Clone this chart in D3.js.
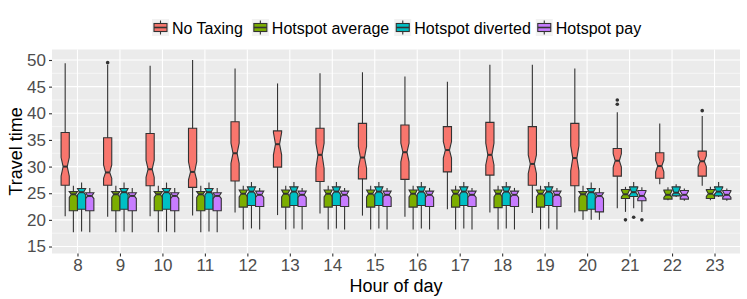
<!DOCTYPE html>
<html>
<head>
<meta charset="utf-8">
<script src="https://cdn.jsdelivr.net/npm/d3@7"></script>
<style>
  body { margin: 0; background: #fff; }
  text { font-family: "Liberation Sans", Arial, sans-serif; }
</style>
</head>
<body>
<div id="chart"></div>
<script>
// Hours on the x axis
const hours = ["8","9","10","11","12","13","14","15","16","17","18","19","20","21","22","23"];
const groups = ["No Taxing", "Hotspot average", "Hotspot diverted", "Hotspot pay"];
const colors = ["#F8766D", "#7CAE00", "#00BFC4", "#C77CFF"];
const yTicks = [15, 20, 25, 30, 35, 40, 45, 50];

// No Taxing: one value per hour
const noTaxLow    = [20.7,20.6,20.7,20.8,21.4,20.9,21.2,20.8,20.6,22.0,21.4,21.3,21.4,22.2,26.7,26.4];
const noTaxQ1     = [26.5,26.5,26.4,26.1,27.3,29.9,27.2,27.7,27.6,29.0,28.4,26.5,26.4,28.2,27.8,28.2];
const noTaxNotchL = [28.2,27.8,28.0,27.5,30.6,32.2,29.7,29.7,30.9,31.6,30.3,28.7,29.2,29.9,29.0,30.0];
const noTaxMed    = [30.0,28.9,29.5,29.0,32.5,34.2,32.2,31.7,32.7,33.1,32.2,30.5,31.6,31.1,30.1,31.0];
const noTaxNotchH = [31.7,30.3,31.2,30.9,34.4,36.4,34.4,33.8,34.4,34.7,34.4,32.2,33.9,32.4,31.2,32.0];
const noTaxQ3     = [36.4,35.4,36.2,37.2,38.4,36.7,37.2,38.1,37.8,37.5,38.3,37.5,38.1,33.4,32.6,32.9];
const noTaxHigh   = [49.4,49.1,48.9,50.0,48.4,45.6,47.5,47.7,46.9,45.9,49.1,49.1,48.4,40.2,38.1,39.5];
const noTaxOut    = [[],[49.5],[],[],[],[],[],[],[],[],[],[],[],[41.7,42.5],[],[40.5]];

// Hotspot average
const avgLow    = [17.7,17.7,17.7,17.7,18.2,18.2,18.2,18.2,18.2,18.2,18.2,18.2,20.0,21.5,23.7,23.7];
const avgQ1     = [21.7,21.7,21.7,21.7,22.4,22.4,22.4,22.4,22.4,22.4,22.3,22.4,21.7,24.0,23.9,24.0];
const avgNotchL = [24.2,24.2,24.2,24.2,24.3,24.3,24.3,24.3,24.3,24.3,24.3,24.3,24.2,24.3,24.2,24.4];
const avgMed    = [24.8,24.8,24.8,24.8,24.9,24.9,24.9,24.9,24.9,24.9,24.9,24.9,24.8,24.8,24.7,24.9];
const avgNotchH = [25.3,25.3,25.3,25.3,25.6,25.6,25.6,25.6,25.6,25.6,25.6,25.6,25.3,25.6,25.5,25.6];
const avgQ3     = [25.3,25.3,25.3,25.3,25.6,25.6,25.6,25.6,25.6,25.6,25.6,25.6,25.3,25.7,25.6,25.7];
const avgHigh   = [26.4,26.4,26.4,26.4,26.4,26.4,26.4,26.4,26.4,26.4,26.4,26.4,26.4,26.2,26.1,26.2];
const avgOut    = [[],[],[],[],[],[],[],[],[],[],[],[],[],[20.0],[],[]];

// Hotspot diverted
const divLow    = [17.8,17.8,17.8,17.8,18.4,18.4,18.4,18.4,18.4,18.4,18.4,18.4,20.0,22.2,24.3,24.3];
const divQ1     = [22.0,22.0,22.0,22.0,22.7,22.7,22.7,22.7,22.7,22.7,22.7,22.7,22.0,24.4,24.5,24.5];
const divNotchL = [24.7,24.7,24.7,24.7,24.8,24.8,24.8,24.8,24.8,24.8,24.8,24.8,24.7,24.7,24.7,24.8];
const divMed    = [25.2,25.2,25.2,25.2,25.3,25.3,25.3,25.3,25.3,25.3,25.3,25.3,25.2,25.2,25.1,25.3];
const divNotchH = [25.9,25.9,25.9,25.9,26.2,26.2,26.2,26.2,26.2,26.2,26.2,26.2,25.9,26.1,26.1,26.1];
const divQ3     = [25.9,25.9,25.9,25.9,26.2,26.2,26.2,26.2,26.2,26.2,26.2,26.2,25.9,26.2,26.2,26.2];
const divHigh   = [27.0,27.0,27.0,27.0,27.1,27.1,27.1,27.1,27.1,27.1,27.1,27.1,27.0,27.1,26.7,27.1];
const divOut    = [[],[],[],[],[],[],[],[],[],[],[],[],[],[20.5],[],[]];

// Hotspot pay
const payLow    = [17.7,17.7,17.7,17.7,18.2,18.2,18.2,18.2,18.2,18.2,18.2,18.2,20.0,21.5,23.6,23.6];
const payQ1     = [21.7,21.7,21.7,21.7,22.5,22.5,22.5,22.5,22.5,22.5,22.5,22.5,21.5,23.6,23.9,23.9];
const payNotchL = [24.0,24.0,24.0,24.0,24.2,24.2,24.2,24.2,24.2,24.2,24.2,24.2,24.0,24.0,24.2,24.2];
const payMed    = [24.5,24.5,24.5,24.5,24.7,24.7,24.7,24.7,24.7,24.7,24.7,24.7,24.5,24.5,24.7,24.7];
const payNotchH = [25.1,25.1,25.1,25.1,25.4,25.4,25.4,25.4,25.4,25.4,25.4,25.4,25.1,25.4,25.4,25.4];
const payQ3     = [25.1,25.1,25.1,25.1,25.4,25.4,25.4,25.4,25.4,25.4,25.4,25.4,25.1,25.5,25.5,25.5];
const payHigh   = [26.0,26.0,26.0,26.0,26.0,26.0,26.0,26.0,26.0,26.0,26.0,26.0,26.0,26.1,25.9,25.9];
const payOut    = [[],[],[],[],[],[],[],[],[],[],[],[],[],[20.0],[],[]];

// Build box records
const series = [
  [noTaxLow, noTaxQ1, noTaxNotchL, noTaxMed, noTaxNotchH, noTaxQ3, noTaxHigh, noTaxOut],
  [avgLow, avgQ1, avgNotchL, avgMed, avgNotchH, avgQ3, avgHigh, avgOut],
  [divLow, divQ1, divNotchL, divMed, divNotchH, divQ3, divHigh, divOut],
  [payLow, payQ1, payNotchL, payMed, payNotchH, payQ3, payHigh, payOut]
];
const boxes = [];
series.forEach(function(s, g) {
  hours.forEach(function(h, i) {
    boxes.push({hour: h, group: g, low: s[0][i], q1: s[1][i], nlo: s[2][i], med: s[3][i],
                nhi: s[4][i], q3: s[5][i], high: s[6][i], out: s[7][i]});
  });
});

const W = 747, H = 299;
const panel = {left: 52, right: 740, top: 49.5, bottom: 253.5};

const svg = d3.select("#chart").append("svg")
  .attr("width", W).attr("height", H);

// Scales
const x = d3.scalePoint().domain(hours).range([panel.left, panel.right]).padding(0.6);
const y = d3.scaleLinear().domain([13.69, 51.97]).range([panel.bottom, panel.top]);
const slot = x.step() * 0.193;
const dodge = d3.scaleBand().domain(d3.range(groups.length)).range([-2 * slot, 2 * slot]);

// Panel background and grid
svg.append("rect")
  .attr("x", panel.left).attr("y", panel.top)
  .attr("width", panel.right - panel.left).attr("height", panel.bottom - panel.top)
  .attr("fill", "#EBEBEB");

const minor = yTicks.slice(0, -1).map(function(t) { return t + 2.5; });
svg.append("g").selectAll("line").data(minor).enter().append("line")
  .attr("x1", panel.left).attr("x2", panel.right)
  .attr("y1", function(d) { return y(d); }).attr("y2", function(d) { return y(d); })
  .attr("stroke", "#fff").attr("stroke-width", 0.55);

svg.append("g").selectAll("line").data(yTicks).enter().append("line")
  .attr("x1", panel.left).attr("x2", panel.right)
  .attr("y1", function(d) { return y(d); }).attr("y2", function(d) { return y(d); })
  .attr("stroke", "#fff").attr("stroke-width", 1.1);

svg.append("g").selectAll("line").data(hours).enter().append("line")
  .attr("y1", panel.top).attr("y2", panel.bottom)
  .attr("x1", function(d) { return x(d); }).attr("x2", function(d) { return x(d); })
  .attr("stroke", "#fff").attr("stroke-width", 1.1);

// Boxes
const ink = "#333333";
const bx = svg.append("g").selectAll("g").data(boxes).enter().append("g");

bx.append("line")
  .attr("x1", function(d) { return x(d.hour) + dodge(d.group) + slot / 2; })
  .attr("x2", function(d) { return x(d.hour) + dodge(d.group) + slot / 2; })
  .attr("y1", function(d) { return y(d.high); })
  .attr("y2", function(d) { return y(d.low); })
  .attr("stroke", ink).attr("stroke-width", 1.1);

bx.append("path")
  .attr("d", function(d) {
    const x0 = x(d.hour) + dodge(d.group), x1 = x0 + slot, ind = slot / 4;
    return d3.line()([
      [x0, y(d.q3)], [x0, y(d.nhi)], [x0 + ind, y(d.med)], [x0, y(d.nlo)], [x0, y(d.q1)],
      [x1, y(d.q1)], [x1, y(d.nlo)], [x1 - ind, y(d.med)], [x1, y(d.nhi)], [x1, y(d.q3)]
    ]) + "Z";
  })
  .attr("fill", function(d) { return colors[d.group]; })
  .attr("stroke", ink).attr("stroke-width", 1.1);

bx.append("line")
  .attr("x1", function(d) { return x(d.hour) + dodge(d.group) + slot / 4; })
  .attr("x2", function(d) { return x(d.hour) + dodge(d.group) + slot * 3 / 4; })
  .attr("y1", function(d) { return y(d.med); })
  .attr("y2", function(d) { return y(d.med); })
  .attr("stroke", ink).attr("stroke-width", 2);

bx.selectAll("circle").data(function(d) {
    return d.out.map(function(v) { return {hour: d.hour, group: d.group, v: v}; });
  }).enter().append("circle")
  .attr("cx", function(d) { return x(d.hour) + dodge(d.group) + slot / 2; })
  .attr("cy", function(d) { return y(d.v); })
  .attr("r", 1.8)
  .attr("fill", ink);

// Axes
const yAxis = svg.append("g")
  .attr("transform", "translate(" + panel.left + ",0)")
  .call(d3.axisLeft(y).tickValues(yTicks).tickSize(3).tickPadding(3));
const xAxis = svg.append("g")
  .attr("transform", "translate(0," + panel.bottom + ")")
  .call(d3.axisBottom(x).tickSize(3).tickPadding(2));
[yAxis, xAxis].forEach(function(a) {
  a.select(".domain").remove();
  a.selectAll(".tick line").attr("stroke", ink).attr("stroke-width", 1.1);
  a.selectAll(".tick text").attr("fill", "#4D4D4D").style("font-size", "17px")
    .style("font-family", "'Liberation Sans', Arial, sans-serif");
});

svg.append("text")
  .attr("transform", "translate(22," + ((panel.top + panel.bottom) / 2) + ") rotate(-90)")
  .attr("text-anchor", "middle")
  .style("font-size", "18px")
  .text("Travel time");

svg.append("text")
  .attr("x", (panel.left + panel.right) / 2).attr("y", 292)
  .attr("text-anchor", "middle")
  .style("font-size", "18px")
  .text("Hour of day");

// Legend
const legend = svg.append("g").attr("transform", "translate(152,19)");
let lx = 0;
groups.forEach(function(name, i) {
  const item = legend.append("g").attr("transform", "translate(" + lx + ",0)");
  item.append("rect").attr("x", 0).attr("y", 0).attr("width", 17).attr("height", 17).attr("fill", "#F2F2F2");
  item.append("line").attr("x1", 8.5).attr("x2", 8.5).attr("y1", 1.5).attr("y2", 15.5)
    .attr("stroke", ink).attr("stroke-width", 1.1);
  item.append("rect").attr("x", 2).attr("y", 4.5).attr("width", 13).attr("height", 8)
    .attr("fill", colors[i]).attr("stroke", ink).attr("stroke-width", 1.1);
  item.append("line").attr("x1", 2).attr("x2", 15).attr("y1", 8.5).attr("y2", 8.5)
    .attr("stroke", ink).attr("stroke-width", 1.6);
  const t = item.append("text").attr("x", 20).attr("y", 14.5)
    .style("font-size", "16px").text(name);
  lx += 20 + t.node().getComputedTextLength() + (i === 0 ? 9 : 5);
});
</script>
</body>
</html>
